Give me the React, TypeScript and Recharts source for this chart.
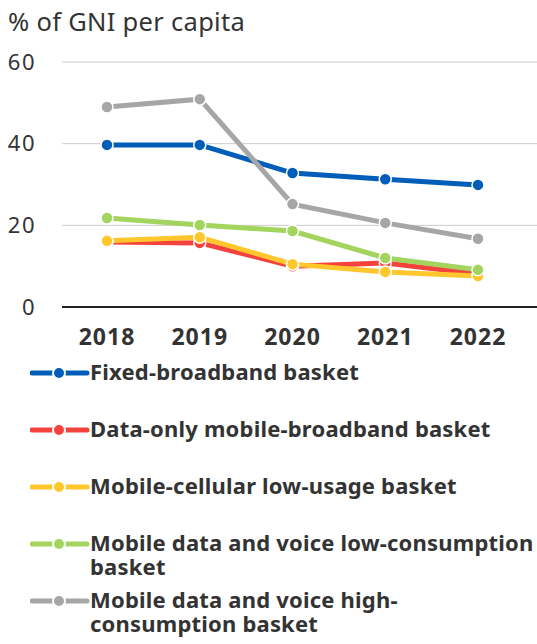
import React from 'react';
import { LineChart, Line, XAxis, YAxis, CartesianGrid, Legend } from 'recharts';

const years = ['2018', '2019', '2020', '2021', '2022'];
const fixedBroadband = [39.7, 39.7, 32.8, 31.3, 29.9];
const dataOnlyMobile = [15.9, 15.7, 10.0, 10.8, 8.1];
const mobileCellularLow = [16.2, 17.1, 10.5, 8.6, 7.6];
const dataVoiceLow = [21.8, 20.1, 18.6, 12.0, 9.1];
const dataVoiceHigh = [49.0, 50.9, 25.2, 20.6, 16.7];
const yTicks = [0, 20, 40, 60];

const series = [
  { key: 'fixed', name: 'Fixed-broadband basket', color: '#005EB8', values: fixedBroadband },
  { key: 'dataOnly', name: 'Data-only mobile-broadband basket', color: '#F4433C', values: dataOnlyMobile },
  { key: 'cellLow', name: 'Mobile-cellular low-usage basket', color: '#FFC72C', values: mobileCellularLow },
  { key: 'dvLow', name: 'Mobile data and voice low-consumption basket', color: '#A2D45E', values: dataVoiceLow },
  { key: 'dvHigh', name: 'Mobile data and voice high-consumption basket', color: '#A6A6A6', values: dataVoiceHigh },
];

const chartData = years.map((year, i) => {
  const row: Record<string, string | number> = { year };
  series.forEach(s => { row[s.key] = s.values[i]; });
  return row;
});

const FONT = '"Noto Sans", sans-serif';

const LegendContent = () => (
  <div style={{ position: 'relative', width: 537, height: 284, fontFamily: FONT }}>
    {series.map((s, i) => (
      <div key={s.key} style={{ position: 'absolute', left: 0, top: i * 57, width: 537 }}>
        <svg width={60} height={26} style={{ position: 'absolute', left: 30, top: 0 }}>
          <line x1={2} y1={13} x2={57} y2={13} stroke={s.color} strokeWidth={5} strokeLinecap="round" />
          <circle cx={29} cy={13} r={6} fill={s.color} stroke="#fff" strokeWidth={2} />
        </svg>
        <div style={{
          position: 'absolute', left: 90, top: -1, width: 448,
          fontSize: 22, fontWeight: 700, lineHeight: '24px', letterSpacing: 0.2, color: '#333',
        }}>
          {s.name}
        </div>
      </div>
    ))}
  </div>
);

const App: React.FC = () => {
  return (
    <div style={{ position: 'absolute', left: 0, top: 0, width: 537, height: 644, background: '#fff' }}>
      <div style={{
        position: 'absolute', left: 8, top: 4, fontFamily: FONT, fontSize: 25.5,
        letterSpacing: 0.3, color: '#333', whiteSpace: 'nowrap',
      }}>
        % of GNI per capita
      </div>
      <LineChart width={537} height={644} data={chartData} margin={{ top: 62, right: 0, bottom: 0, left: 0 }}>
        <CartesianGrid vertical={false} stroke="#cccccc" strokeWidth={1} />
        <XAxis
          dataKey="year"
          padding={{ left: 45, right: 59 }}
          height={53}
          tickLine={false}
          tickSize={0}
          tickMargin={22}
          axisLine={{ stroke: '#222', strokeWidth: 2 }}
          tick={{ fontFamily: FONT, fontSize: 23, fontWeight: 700, fill: '#333', letterSpacing: 1 }}
        />
        <YAxis
          domain={[0, 60]}
          ticks={yTicks}
          width={62}
          axisLine={false}
          tickLine={false}
          tickSize={0}
          tickMargin={26}
          tick={{ fontFamily: FONT, fontSize: 22, fill: '#333', letterSpacing: 1.5 }}
        />
        <Legend verticalAlign="bottom" align="left" height={284} content={<LegendContent />} />
        {series.map(s => (
          <Line
            key={s.key}
            dataKey={s.key}
            name={s.name}
            type="linear"
            stroke={s.color}
            strokeWidth={5}
            dot={{ r: 6, fill: s.color, stroke: '#fff', strokeWidth: 1.5 }}
            activeDot={false}
            isAnimationActive={false}
          />
        ))}
      </LineChart>
    </div>
  );
};

export default App;
